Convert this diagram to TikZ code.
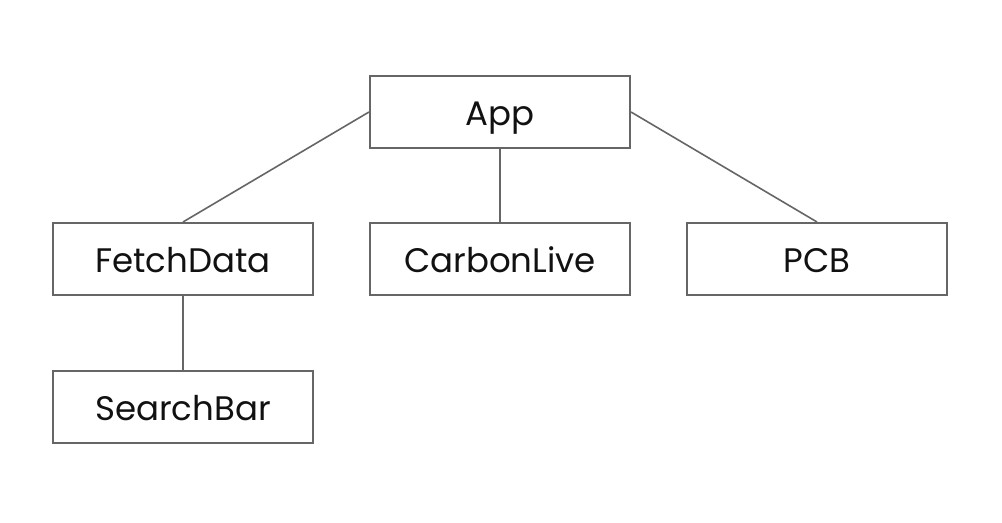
\documentclass[tikz,border=0pt]{standalone}
\usepackage{fontspec}
\setmainfont{Poppins}
\definecolor{edgegray}{HTML}{666666}
\definecolor{textblack}{HTML}{111111}
\tikzset{
  compbox/.style={draw=edgegray, line width=1.5pt, minimum width=195pt, minimum height=54pt, inner sep=0pt, text height=21pt, text depth=0pt, text=textblack, font=\fontsize{25.5}{30}\selectfont},
  link/.style={draw=edgegray, line width=1.2pt}
}
\begin{document}
\begin{tikzpicture}[x=0.75pt, y=-0.75pt]
\useasboundingbox (0,0) rectangle (1002,523);
\fill[white] (0,0) rectangle (1002,523);
\node[compbox] (app) at (500,112) {App};
\node[compbox] (fetch) at (183,259) {FetchData};
\node[compbox] (carbon) at (500,259) {CarbonLive};
\node[compbox] (pcb) at (817,259) {PCB};
\node[compbox] (search) at (183,407) {SearchBar};
\draw[link] (app.west) -- (fetch.north);
\draw[link] (app.south) -- (carbon.north);
\draw[link] (app.east) -- (pcb.north);
\draw[link] (fetch.south) -- (search.north);
\end{tikzpicture}
\end{document}
